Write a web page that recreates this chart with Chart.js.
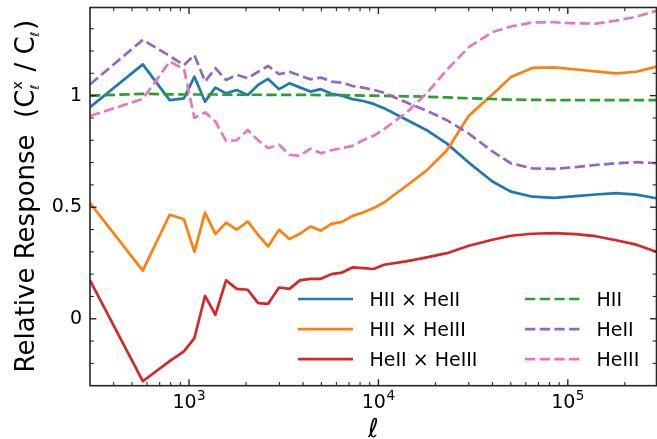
<!DOCTYPE html>
<html>
<head>
<meta charset="utf-8">
<script src="https://cdn.jsdelivr.net/npm/chart.js@4.4.1/dist/chart.umd.min.js"></script>
<style>
  html, body { margin: 0; padding: 0; background: #fff; }
  #chart { display: block; }
</style>
</head>
<body>
<canvas id="chart" width="657" height="439"></canvas>
<script>
// multipole bins
const ell = [
  300, 570, 790, 940, 1068, 1215, 1378, 1569, 1786, 2042, 2316, 2615,
  2990, 3390, 3845, 4370, 4970, 5650, 6420, 7300, 8300, 9430, 10700,
  14000, 18000, 23000, 30000, 40000, 50000, 65000, 85000, 110000,
  140000, 180000, 230000, 294000
];

// cross spectra, relative response
const hiiXheii = [
  0.948, 1.14, 0.98, 0.988, 1.085, 0.973, 1.036, 1.01, 1.025, 1.003, 1.048, 1.075,
  1.029, 1.055, 1.037, 1.018, 1.029, 1.008, 1.0, 0.984, 0.976, 0.963, 0.944,
  0.893, 0.845, 0.785, 0.70, 0.615, 0.57, 0.547, 0.542, 0.55,
  0.557, 0.563, 0.556, 0.54
];
const hiiXheiii = [
  0.518, 0.216, 0.466, 0.446, 0.30, 0.476, 0.379, 0.431, 0.399, 0.436, 0.376, 0.324,
  0.399, 0.357, 0.381, 0.413, 0.395, 0.425, 0.434, 0.461, 0.476, 0.496, 0.521,
  0.595, 0.665, 0.755, 0.91, 1.005, 1.083, 1.124, 1.127, 1.117,
  1.109, 1.10, 1.107, 1.13
];
const heiiXheiii = [
  0.172, -0.28, -0.19, -0.146, -0.087, 0.103, 0.018, 0.172, 0.134, 0.13, 0.07, 0.067,
  0.14, 0.134, 0.172, 0.179, 0.179, 0.20, 0.207, 0.23, 0.227, 0.223, 0.242,
  0.257, 0.275, 0.294, 0.327, 0.354, 0.372, 0.381, 0.384, 0.379,
  0.37, 0.352, 0.332, 0.30
];

// auto spectra
const hii = [
  1.0, 1.008, 1.006, 1.005, 1.005, 1.005, 1.005, 1.004, 1.004, 1.004, 1.004, 1.003,
  1.003, 1.003, 1.003, 1.003, 1.002, 1.002, 1.002, 1.001, 1.0, 1.0, 0.999,
  0.997, 0.995, 0.992, 0.988, 0.985, 0.982, 0.981, 0.98, 0.98,
  0.98, 0.98, 0.98, 0.98
];
const heii = [
  1.05, 1.25, 1.178, 1.137, 1.182, 1.063, 1.123, 1.07, 1.093, 1.078, 1.107, 1.133,
  1.096, 1.107, 1.09, 1.073, 1.081, 1.063, 1.058, 1.043, 1.036, 1.026, 1.013,
  0.97, 0.932, 0.89, 0.83, 0.75, 0.697, 0.674, 0.672, 0.68,
  0.689, 0.697, 0.702, 0.697
];
const heiii = [
  0.909, 0.985, 1.152, 1.12, 0.90, 0.925, 0.884, 0.797, 0.80, 0.846, 0.80, 0.765,
  0.78, 0.735, 0.73, 0.762, 0.742, 0.755, 0.765, 0.775, 0.80, 0.82, 0.85,
  0.922, 1.011, 1.116, 1.217, 1.285, 1.31, 1.328, 1.329, 1.324,
  1.323, 1.336, 1.354, 1.38
];

const seriesNames = ["HII × HeII", "HII × HeIII", "HeII × HeIII", "HII", "HeII", "HeIII"];
const seriesValues = [hiiXheii, hiiXheiii, heiiXheiii, hii, heii, heiii];
const seriesColors = ["#1f77b4", "#ff7f0e", "#d62728", "#2ca02c", "#9467bd", "#e377c2"];
const seriesDashed = [false, false, false, true, true, true];

// x ticks are powers of ten: base and exponent drawn separately
const xMajor = [1e3, 1e4, 1e5];
const xTickExponents = ["3", "4", "5"];
const yMajor = [0, 0.5, 1];
const yTickLabels = ["0", "0.5", "1"];

const FONT = "'DejaVu Sans', sans-serif";
const LW = 2.7;
const DASH = [10.3, 4.4];

const datasets = seriesValues.map((vals, i) => ({
  label: seriesNames[i],
  data: vals.map((v, j) => ({ x: ell[j], y: v })),
  borderColor: seriesColors[i],
  backgroundColor: seriesColors[i],
  borderWidth: LW,
  borderDash: seriesDashed[i] ? DASH : [],
  borderJoinStyle: "round",
  borderCapStyle: "butt",
  pointRadius: 0,
  tension: 0,
  fill: false,
  order: seriesValues.length - i
}));

function strokeLine(ctx, x1, y1, x2, y2) {
  ctx.beginPath();
  ctx.moveTo(x1, y1);
  ctx.lineTo(x2, y2);
  ctx.stroke();
}

// inward ticks on all four sides plus the box
const frameTicks = {
  id: "frameTicks",
  afterDatasetsDraw(chart) {
    const { ctx, chartArea: a, scales: { x, y } } = chart;
    ctx.save();
    ctx.strokeStyle = "#262626";
    for (let d = 2; d <= 5; d++) {
      for (let k = 1; k <= 9; k++) {
        const v = k * Math.pow(10, d);
        if (v <= x.min || v >= x.max) continue;
        const px = x.getPixelForValue(v);
        const len = k === 1 ? 6.5 : 3.8;
        ctx.lineWidth = k === 1 ? 1.4 : 1.1;
        strokeLine(ctx, px, a.bottom, px, a.bottom - len);
        strokeLine(ctx, px, a.top, px, a.top + len);
      }
    }
    for (let t = -3; t <= 14; t++) {
      const v = t / 10;
      if (v <= y.min || v >= y.max) continue;
      const py = y.getPixelForValue(v);
      const major = t % 5 === 0;
      const len = major ? 6.5 : 3.8;
      ctx.lineWidth = major ? 1.4 : 1.1;
      strokeLine(ctx, a.left, py, a.left + len, py);
      strokeLine(ctx, a.right, py, a.right - len, py);
    }
    ctx.lineWidth = 1.6;
    ctx.strokeRect(a.left, a.top, a.right - a.left, a.bottom - a.top);
    ctx.restore();
  }
};

// "10" with a raised exponent under each major x tick
const powerLabels = {
  id: "powerLabels",
  afterDraw(chart) {
    const { ctx, chartArea: a, scales: { x } } = chart;
    ctx.save();
    ctx.fillStyle = "#000";
    ctx.textBaseline = "alphabetic";
    ctx.textAlign = "left";
    xMajor.forEach((v, i) => {
      ctx.font = "19px " + FONT;
      const wb = ctx.measureText("10").width;
      ctx.font = "13.5px " + FONT;
      const we = ctx.measureText(xTickExponents[i]).width;
      const x0 = x.getPixelForValue(v) - (wb + we + 0.5) / 2;
      ctx.font = "19px " + FONT;
      ctx.fillText("10", x0, a.bottom + 22.6);
      ctx.font = "13.5px " + FONT;
      ctx.fillText(xTickExponents[i], x0 + wb + 0.5, a.bottom + 14.5);
    });
    ctx.restore();
  }
};

// two-column legend in the lower right of the plot
const pairLegend = {
  id: "pairLegend",
  afterDraw(chart) {
    const { ctx, chartArea: a } = chart;
    const rows = [a.bottom - 86.7, a.bottom - 56.5, a.bottom - 26.5];
    const cols = [a.left + 208, a.left + 435];
    ctx.save();
    ctx.font = "19px " + FONT;
    ctx.textBaseline = "alphabetic";
    ctx.textAlign = "left";
    chart.data.datasets.forEach((ds, i) => {
      const col = Math.floor(i / 3), row = i % 3;
      const x0 = cols[col], yc = rows[row];
      ctx.strokeStyle = ds.borderColor;
      ctx.lineWidth = ds.borderWidth;
      ctx.setLineDash(ds.borderDash);
      ctx.lineCap = "butt";
      strokeLine(ctx, x0, yc, x0 + 55, yc);
      ctx.setLineDash([]);
      ctx.fillStyle = "#000";
      ctx.fillText(ds.label, x0 + 71.5, yc + 6.9);
    });
    ctx.restore();
  }
};

// axis titles, with sub/superscripts on the y title
const axisTitles = {
  id: "axisTitles",
  afterDraw(chart) {
    const { ctx, chartArea: a } = chart;
    ctx.save();
    ctx.fillStyle = "#000";
    ctx.textBaseline = "alphabetic";
    ctx.textAlign = "left";

    ctx.font = "italic 26px " + FONT;
    const lw = ctx.measureText("ℓ").width;
    ctx.fillText("ℓ", (a.left + a.right) / 2 - lw / 2, 437);

    const big = "26px " + FONT, sup = "14px " + FONT, sub = "italic 12px " + FONT;
    const parts = [
      { t: "Relative Response  (C", f: big, dy: 0 },
      { t: "x", f: sup, dy: -11.5, stackWith: { t: "ℓ", f: sub, dy: 5 } },
      { t: " / C", f: big, dy: 0 },
      { t: "ℓ", f: sub, dy: 5 },
      { t: ")", f: big, dy: 0 }
    ];
    const width = p => { ctx.font = p.f; return ctx.measureText(p.t).width; };
    let total = 0;
    const adv = parts.map(p => {
      let w = width(p);
      if (p.stackWith) w = Math.max(w, width(p.stackWith));
      w += (p.f === big ? 0 : 1.5);
      total += w;
      return w;
    });
    ctx.translate(33.5, (a.top + a.bottom) / 2);
    ctx.rotate(-Math.PI / 2);
    let cx = -total / 2;
    parts.forEach((p, i) => {
      ctx.font = p.f;
      ctx.fillText(p.t, cx + 0.5, p.dy);
      if (p.stackWith) {
        ctx.font = p.stackWith.f;
        ctx.fillText(p.stackWith.t, cx + 0.5, p.stackWith.dy);
      }
      cx += adv[i];
    });
    ctx.restore();
  }
};

const ctx = document.getElementById("chart").getContext("2d");
new Chart(ctx, {
  type: "line",
  data: { datasets: datasets },
  options: {
    responsive: false,
    animation: false,
    devicePixelRatio: 1,
    layout: { padding: { top: 7.5, right: 0.5, left: 0, bottom: 0 } },
    plugins: {
      legend: { display: false },
      tooltip: { enabled: false }
    },
    scales: {
      x: {
        type: "logarithmic",
        min: 300,
        max: 294000,
        grid: { display: false, drawTicks: false },
        border: { display: false },
        afterBuildTicks: s => { s.ticks = xMajor.map(v => ({ value: v, major: true })); },
        afterFit: s => { s.height = 53.3; s.paddingLeft = 0; s.paddingRight = 0; },
        ticks: { display: false }
      },
      y: {
        type: "linear",
        min: -0.3,
        max: 1.395,
        grid: { display: false, drawTicks: false },
        border: { display: false },
        afterBuildTicks: s => { s.ticks = yMajor.map(v => ({ value: v })); },
        afterFit: s => { s.width = 90; s.paddingTop = 0; s.paddingBottom = 0; },
        ticks: {
          padding: 8,
          color: "#000",
          font: { family: FONT, size: 19 },
          callback: (v, i) => yTickLabels[i]
        }
      }
    }
  },
  plugins: [frameTicks, powerLabels, pairLegend, axisTitles]
});
</script>
</body>
</html>
